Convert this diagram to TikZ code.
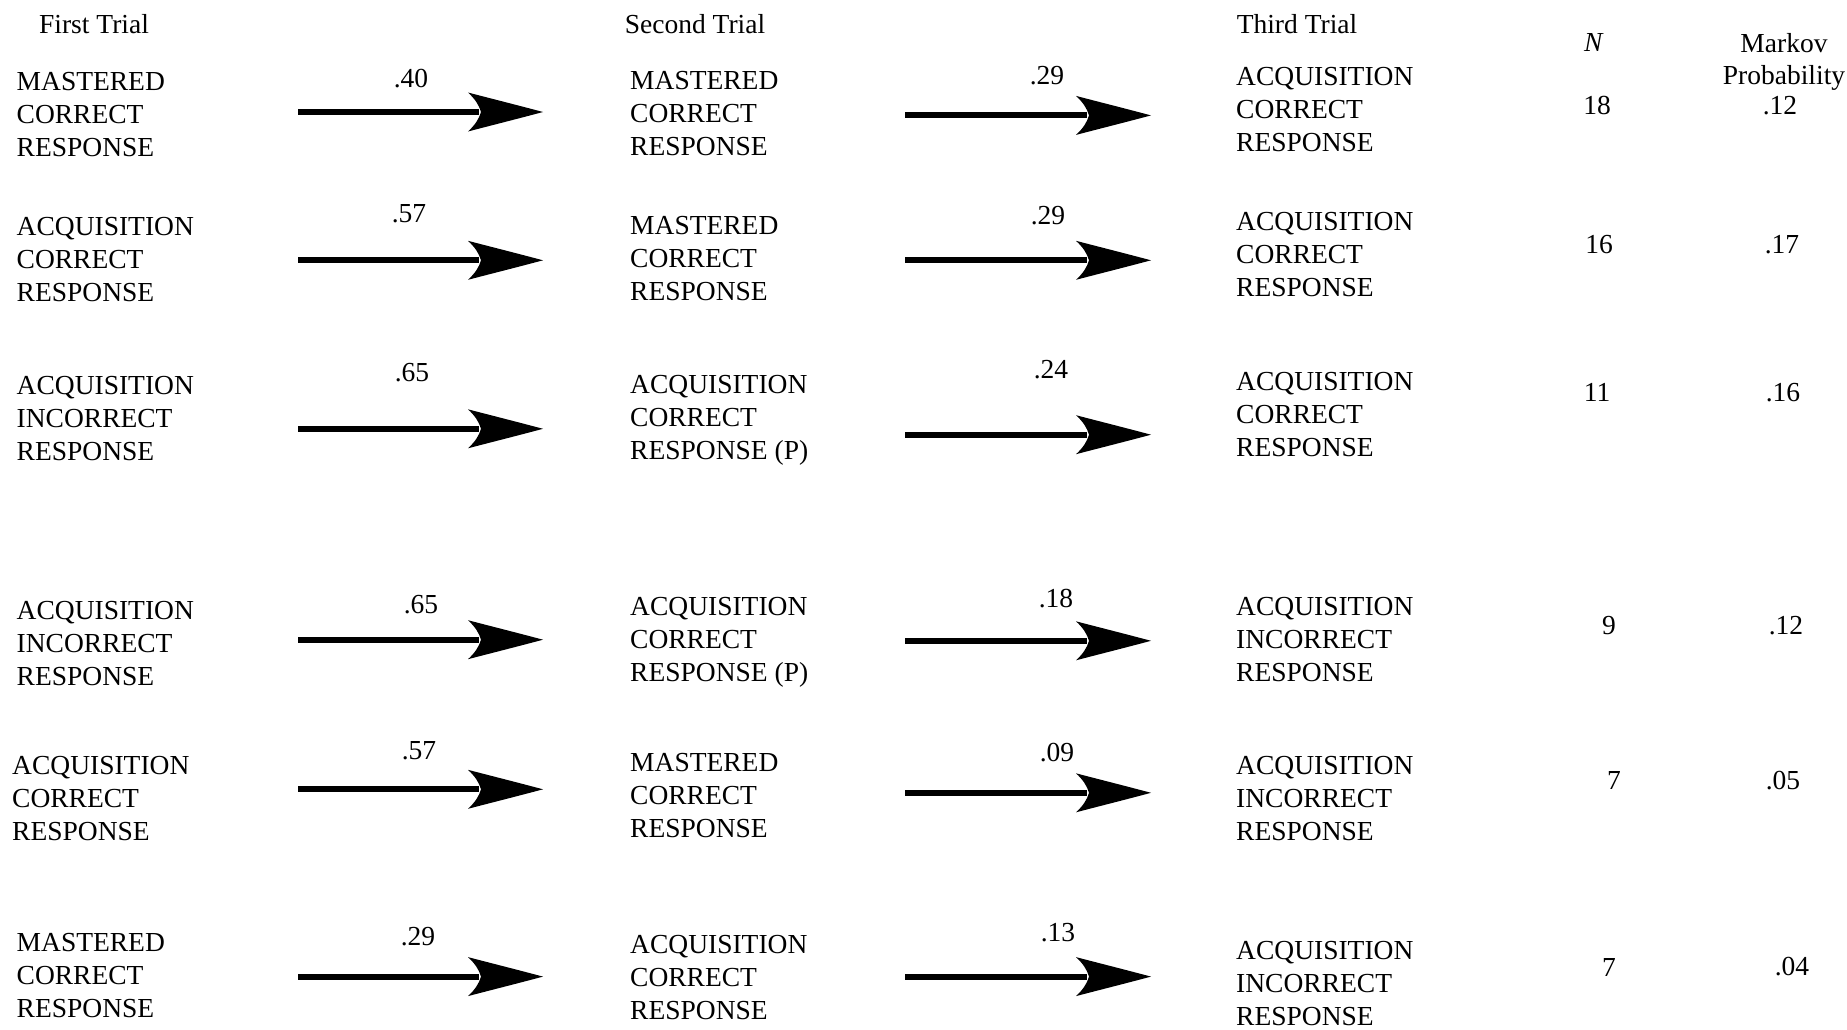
\documentclass[tikz,border=0pt]{standalone}
\usepackage{fontspec}
\setmainfont{Liberation Serif}
\usetikzlibrary{arrows.meta}
\newcommand{\cellfont}{\fontsize{27.5}{33}\selectfont}
% curved barbed head
\pgfdeclarearrow{
	name = Barb,
	setup code = {
		\pgfarrowssettipend{0pt}
		\pgfarrowssetlineend{-64pt}
		\pgfarrowssetbackend{-75pt}
		\pgfarrowsupperhullpoint{0pt}{0pt}
		\pgfarrowsupperhullpoint{-75pt}{19pt}
	},
	drawing code = {
		\pgfpathmoveto{\pgfpointorigin}
		\pgfpathcurveto{\pgfpoint{-30pt}{8pt}}{\pgfpoint{-58pt}{15pt}}{\pgfpoint{-75pt}{19.5pt}}
		\pgfpathcurveto{\pgfpoint{-68pt}{13pt}}{\pgfpoint{-64pt}{7pt}}{\pgfpoint{-62pt}{0pt}}
		\pgfpathcurveto{\pgfpoint{-64pt}{-7pt}}{\pgfpoint{-68pt}{-13pt}}{\pgfpoint{-75pt}{-19.5pt}}
		\pgfpathcurveto{\pgfpoint{-58pt}{-15pt}}{\pgfpoint{-30pt}{-8pt}}{\pgfpointorigin}
		\pgfpathclose
		\pgfusepathqfill
	}
}
\tikzset{
	state/.style={anchor=west, align=left, inner sep=0pt, font=\cellfont},
	plain/.style={inner sep=0pt, font=\cellfont},
	flow/.style={line width=6pt, -Barb}
}
\begin{document}
\begin{tikzpicture}[x=1pt, y=-1pt]
		\useasboundingbox (0,0) rectangle (1847,1029);
		%headers
		\node [plain] (h1) at (94,24) {First Trial};
		\node [plain] (h2) at (695,24) {Second Trial};
		\node [plain] (h3) at (1297,24) {Third Trial};
		\node [plain] (hN) at (1594,42) {\textit{N}};
		\node [plain, align=center, font=\fontsize{27.5}{32}\selectfont] (hM) at (1784,62) {Markov\\Probability};
		
		%first trial
		\node [state] (r1c1) at (16.5,116.5) {\strut MASTERED\\CORRECT\\RESPONSE\strut};
		\node [state] (r2c1) at (16.5,261.5) {\strut ACQUISITION\\CORRECT\\RESPONSE\strut};
		\node [state] (r3c1) at (16.5,420.5) {\strut ACQUISITION\\INCORRECT\\RESPONSE\strut};
		\node [state] (r4c1) at (16.5,645.5) {\strut ACQUISITION\\INCORRECT\\RESPONSE\strut};
		\node [state] (r5c1) at (12,801) {\strut ACQUISITION\\CORRECT\\RESPONSE\strut};
		\node [state] (r6c1) at (16.5,977.5) {\strut MASTERED\\CORRECT\\RESPONSE\strut};
		
		%second trial
		\node [state] (r1c2) at (630,115.5) {\strut MASTERED\\CORRECT\\RESPONSE\strut};
		\node [state] (r2c2) at (630,260.5) {\strut MASTERED\\CORRECT\\RESPONSE\strut};
		\node [state] (r3c2) at (630,419.5) {\strut ACQUISITION\\CORRECT\\RESPONSE (P)\strut};
		\node [state] (r4c2) at (630,642) {\strut ACQUISITION\\CORRECT\\RESPONSE (P)\strut};
		\node [state] (r5c2) at (630,797.5) {\strut MASTERED\\CORRECT\\RESPONSE\strut};
		\node [state] (r6c2) at (630,980) {\strut ACQUISITION\\CORRECT\\RESPONSE\strut};
		
		%third trial
		\node [state] (r1c3) at (1236,112) {\strut ACQUISITION\\CORRECT\\RESPONSE\strut};
		\node [state] (r2c3) at (1236,257) {\strut ACQUISITION\\CORRECT\\RESPONSE\strut};
		\node [state] (r3c3) at (1236,417) {\strut ACQUISITION\\CORRECT\\RESPONSE\strut};
		\node [state] (r4c3) at (1236,642) {\strut ACQUISITION\\INCORRECT\\RESPONSE\strut};
		\node [state] (r5c3) at (1236,801) {\strut ACQUISITION\\INCORRECT\\RESPONSE\strut};
		\node [state] (r6c3) at (1236,986) {\strut ACQUISITION\\INCORRECT\\RESPONSE\strut};
		
		%arrows
		\foreach \r/\ya/\yb in {1/112/115.4,2/260.3/260.3,3/428.8/434.7,4/639.7/640.8,5/789.3/792.8,6/976.6/976.6}
		{
			\coordinate (s\r a) at (298,\ya);
			\coordinate (t\r a) at (543,\ya);
			\coordinate (s\r b) at (905,\yb);
			\coordinate (t\r b) at (1151,\yb);
			\draw [flow] (s\r a) -- (t\r a);
			\draw [flow] (s\r b) -- (t\r b);
		}
		
		%transition probabilities
		\foreach \r/\pa/\xa/\ya/\pb/\xb/\yb in {1/.40/411/79/.29/1047/75.4,2/.57/409/213.2/.29/1048/215.6,3/.65/412/372.2/.24/1051/369.9,4/.65/421/604.3/.18/1056/598.4,5/.57/419/750.4/.09/1057/752.7,6/.29/418/936.5/.13/1058/933}
		{
			\node [plain] (p\r a) at (\xa,\ya) {\pa};
			\node [plain] (p\r b) at (\xb,\yb) {\pb};
		}
		
		%N and Markov probability
		\foreach \r/\n/\xn/\m/\xm/\y in {1/18/1597/.12/1780/105.8,2/16/1599/.17/1782/244.8,3/11/1597/.16/1783/392.1,4/9/1609/.12/1786/625.3,5/7/1614/.05/1783/780.8,6/7/1609/.04/1792/967}
		{
			\node [plain] (n\r) at (\xn,\y) {\n};
			\node [plain] (m\r) at (\xm,\y) {\m};
		}
\end{tikzpicture}
\end{document}
